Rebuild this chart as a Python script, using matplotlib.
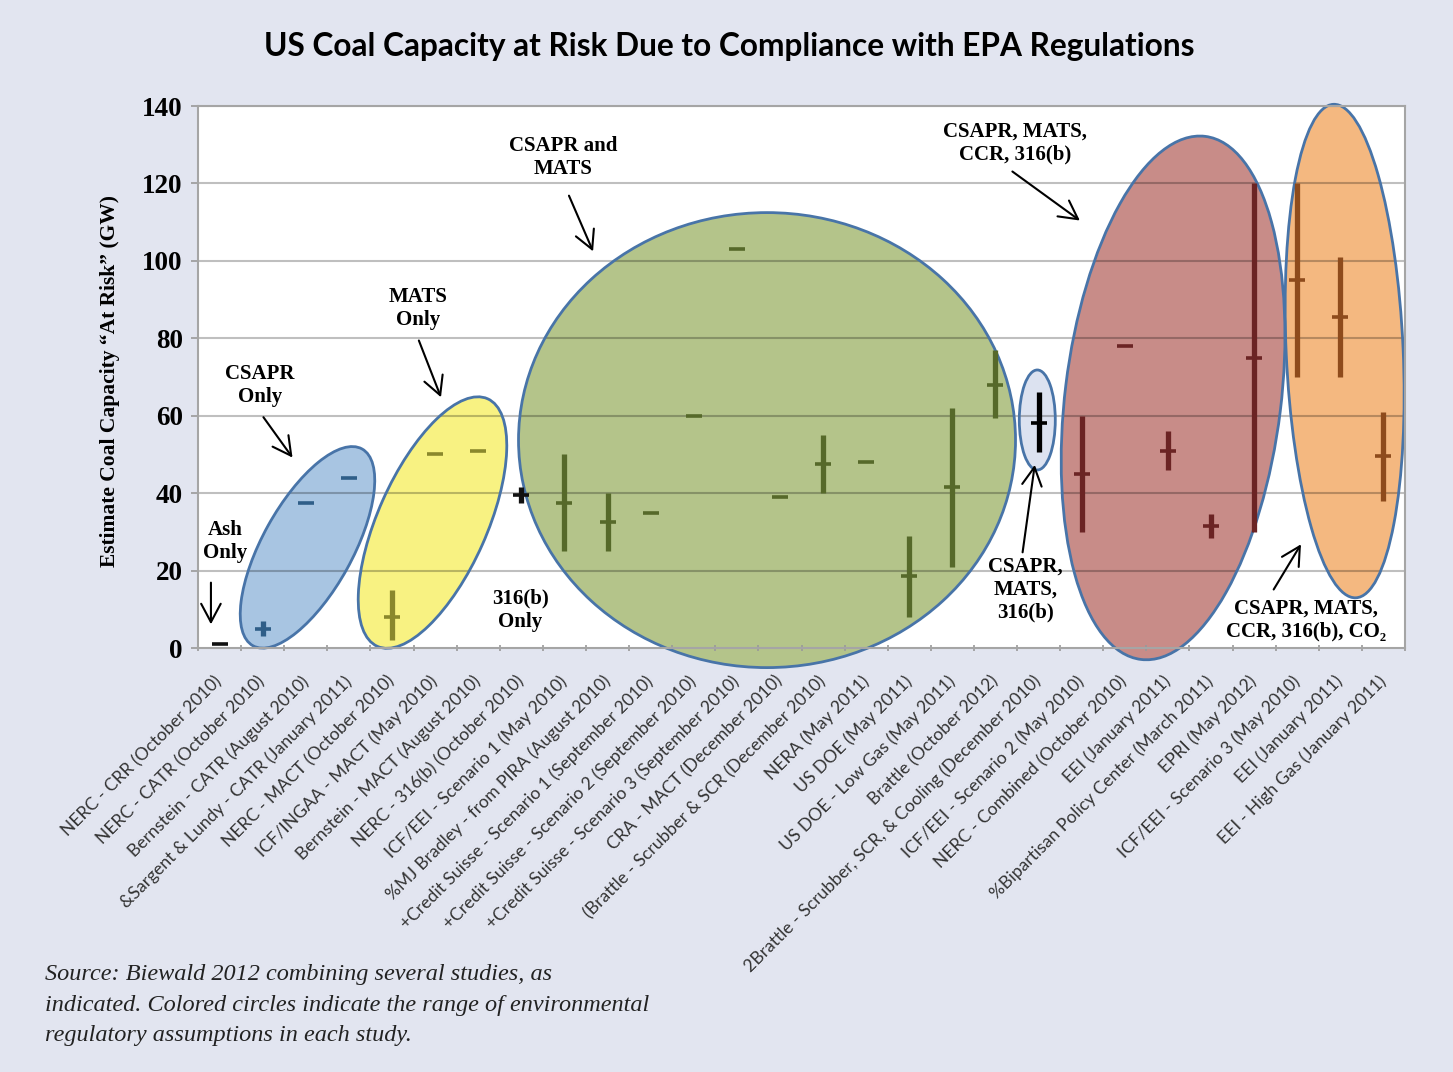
import matplotlib
matplotlib.use("Agg")
import matplotlib.pyplot as plt
import matplotlib.transforms as mtransforms
from matplotlib.patches import Ellipse

# studies on the x axis
studies = [
    "NERC - CRR (October 2010)",
    "NERC - CATR (October 2010)",
    "Bernstein - CATR (August 2010)",
    "&Sargent & Lundy - CATR (January 2011)",
    "NERC - MACT (October 2010)",
    "ICF/INGAA - MACT (May 2010)",
    "Bernstein - MACT (August 2010)",
    "NERC - 316(b) (October 2010)",
    "ICF/EEI - Scenario 1 (May 2010)",
    "%MJ Bradley - from PIRA (August 2010)",
    "+Credit Suisse - Scenario 1 (September 2010)",
    "+Credit Suisse - Scenario 2 (September 2010)",
    "+Credit Suisse - Scenario 3 (September 2010)",
    "CRA - MACT (December 2010)",
    "(Brattle - Scrubber & SCR (December 2010)",
    "NERA (May 2011)",
    "US DOE (May 2011)",
    "US DOE - Low Gas (May 2011)",
    "Brattle (October 2012)",
    "2Brattle - Scrubber, SCR, & Cooling (December 2010)",
    "ICF/EEI - Scenario 2 (May 2010)",
    "NERC - Combined (October 2010)",
    "EEI (January 2011)",
    "%Bipartisan Policy Center (March 2011)",
    "EPRI (May 2012)",
    "ICF/EEI - Scenario 3 (May 2010)",
    "EEI (January 2011)",
    "EEI - High Gas (January 2011)",
]

# GW at risk: central estimate, low and high of range
central = [1, 5, 37.5, 44, 8, 50, 51, 39.5, 37.5, 32.5, 35, 60, 103, 39, 47.5,
           48, 18.5, 41.5, 68, 58, 45, 78, 51, 31.5, 75, 95, 85.5, 49.5]
low = [1, 3, 37.5, 44, 2, 50, 51, 37.5, 25, 25, 35, 60, 103, 39, 40,
       48, 8, 21, 59.5, 50.5, 30, 78, 46, 28.5, 30, 70, 70, 38]
high = [1, 7, 37.5, 44, 15, 50, 51, 41.5, 50, 40, 35, 60, 103, 39, 55,
        48, 29, 62, 77, 66, 60, 78, 56, 34.5, 120, 120, 101, 61]

# regulation group of each study
group = ["ash", "csapr", "csapr", "csapr", "mats", "mats", "mats", "316b",
         "cm", "cm", "cm", "cm", "cm", "cm", "cm", "cm", "cm", "cm", "cm",
         "cm316", "all", "all", "all", "all", "all", "co2", "co2", "co2"]

mark_color = {"ash": "#111111", "csapr": "#2F5E88", "mats": "#8A882C",
              "316b": "#111111", "cm": "#56692A", "cm316": "#000000",
              "all": "#6B2424", "co2": "#8E4B1C"}

# ellipse per group: centre (category, GW), size in px, angle, fill
ellipses = [
    (2.04, 26.0, 225, 90, 61, "#A8C5E2"),
    (4.94, 32.4, 271, 109, 66, "#F8F282"),
    (12.70, 53.7, 497, 455, 0, "#B4C48A"),
    (18.97, 58.9, 36, 100, 0, "#DCE2F0"),
    (22.12, 64.6, 527, 216, 83, "#C88C88"),
    (26.10, 76.7, 494, 117, 92.6, "#F4B880"),
]

# annotation text, text pos, arrow tail, arrow head (category, GW)
notes = [
    ("Ash\nOnly", (0.13, 27.6), (-0.2, 17.6), (-0.2, 5.4)),
    ("CSAPR\nOnly", (0.94, 67.7), (0.98, 60.2), (1.73, 48.6)),
    ("MATS\nOnly", (4.60, 87.6), (4.60, 80.1), (5.16, 64.1)),
    ("CSAPR and\nMATS", (7.97, 126.8), (8.08, 117.5), (8.69, 101.8)),
    ("316(b)\nOnly", (6.97, 9.8), None, None),
    ("CSAPR, MATS,\nCCR, 316(b)", (18.46, 130.5), (18.34, 123.5), (20.01, 110.0)),
    ("CSAPR,\nMATS,\n316(b)", (18.69, 15.0), (18.62, 24.0), (18.92, 48.0)),
    ("CSAPR, MATS,\nCCR, 316(b), CO\u2082", (25.21, 7.2), (24.42, 14.5), (25.12, 27.4)),
]

bg = "#E2E5F0"
serif = ["Liberation Serif", "DejaVu Serif"]

fig = plt.figure(figsize=(14.53, 10.72), dpi=100, facecolor=bg)
ax = fig.add_axes([198 / 1453, 1 - 648 / 1072, 1207 / 1453, 542 / 1072])
ax.set_facecolor("white")
ax.set_xlim(-0.5, len(studies) - 0.5)
ax.set_ylim(0, 140)

# ellipses, built in pixel space around a data centre
for cx, cy, w, h, ang, fc in ellipses:
    c = ax.transData.transform((cx, cy))
    ax.add_patch(Ellipse(c, w, h, angle=ang, facecolor=fc, edgecolor="none",
                         transform=mtransforms.IdentityTransform(),
                         clip_on=False, zorder=1))
    ax.add_patch(Ellipse(c, w, h, angle=ang, facecolor="none", edgecolor="#4874A8",
                         lw=2.0, transform=mtransforms.IdentityTransform(),
                         clip_on=False, zorder=2.2))

for yv in range(20, 141, 20):
    ax.axhline(yv, color="black", alpha=0.25, lw=1.5, zorder=1.5)

# range bars and central marks
for i in range(len(studies)):
    col = mark_color[group[i]]
    if high[i] > low[i]:
        ax.vlines(i, low[i], high[i], color=col, lw=3.8, zorder=3)
    ax.plot(i, central[i], marker="_", ms=11, mew=2.6, color=col, zorder=3)

ax.set_yticks(range(0, 141, 20))
ax.set_yticklabels([str(v) for v in range(0, 141, 20)], fontfamily=serif,
                   fontweight="bold", fontsize=19.5)
ax.tick_params(axis="y", length=5, width=1.2, color="#999999", pad=6)

ax.set_xticks(range(len(studies)))
ax.set_xticklabels(studies, rotation=45, ha="right", va="center",
                   rotation_mode="anchor", fontfamily="Lato", fontsize=12.6,
                   color="#333333")
ax.tick_params(axis="x", length=0, pad=22)
ax.set_xticks([k - 0.5 for k in range(len(studies) + 1)], minor=True)
ax.tick_params(axis="x", which="minor", length=5, width=1.2, color="#999999",
               direction="inout")

for s in ax.spines.values():
    s.set_color("#A5A5A5")
    s.set_linewidth(1.5)

for txt, pos, tail, head in notes:
    ax.text(pos[0], pos[1], txt, ha="center", va="center", fontfamily=serif,
            fontweight="bold", fontsize=15, linespacing=1.2, zorder=5,
            clip_on=False)
    if tail is not None:
        ax.annotate("", xy=head, xytext=tail, annotation_clip=False,
                    arrowprops=dict(arrowstyle="->,head_length=0.6,head_width=0.32",
                                    color="black", lw=1.5, mutation_scale=22))

fig.text(0.502, 0.957, "US Coal Capacity at Risk Due to Compliance with EPA Regulations",
         ha="center", va="center", fontfamily="Lato", fontweight="bold", fontsize=22.8)

fig.text(0.0757, 0.645, "Estimate Coal Capacity \u201cAt Risk\u201d (GW)", rotation=90,
         ha="center", va="center", fontfamily=serif, fontweight="bold", fontsize=15.5)

fig.text(45 / 1453, 1 - 964 / 1072,
         "Source: Biewald 2012 combining several studies, as\n"
         "indicated. Colored circles indicate the range of environmental\n"
         "regulatory assumptions in each study.",
         ha="left", va="top", fontfamily=serif, fontstyle="italic", fontsize=17.5,
         linespacing=1.6, color="#222222")

fig.savefig("out.png", dpi=100, facecolor=bg)
